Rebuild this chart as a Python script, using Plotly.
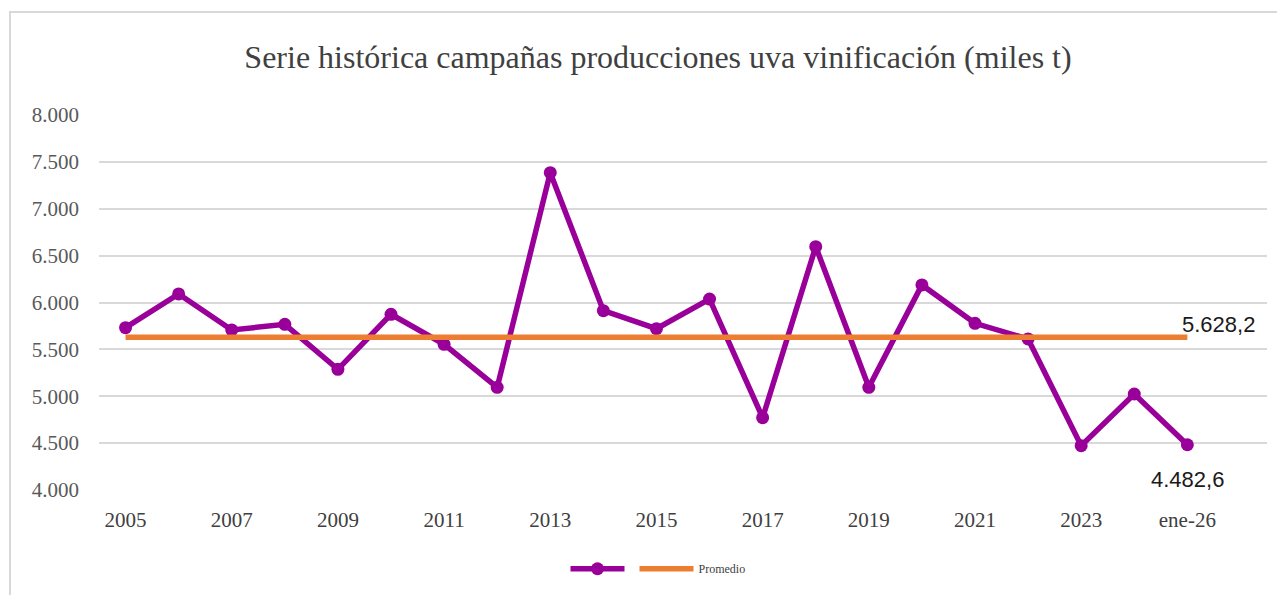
import plotly.graph_objects as go

# ---- data ----
years = ["2005", "2006", "2007", "2008", "2009", "2010", "2011", "2012", "2013", "2014",
         "2015", "2016", "2017", "2018", "2019", "2020", "2021", "2022", "2023", "2024", "ene-26"]
produccion = [5732, 6091, 5707, 5767, 5287, 5874, 5554, 5095, 7385, 5913,
              5721, 6037, 4771, 6596, 5095, 6187, 5778, 5611, 4473, 5024, 4482.6]
promedio_valor = 5628.2
promedio = [promedio_valor] * len(years)
tick_labels = ["2005", "2007", "2009", "2011", "2013", "2015", "2017", "2019", "2021", "2023", "ene-26"]

def fmt_es(v):
    s = f"{v:,.1f}"
    return s.replace(",", "X").replace(".", ",").replace("X", ".")

idx = list(range(len(years)))
tick_idx = [years.index(t) for t in tick_labels]

PURPLE = "#990099"
ORANGE = "#ED7D31"
SERIF = "Liberation Serif, DejaVu Serif, serif"

fig = go.Figure()
fig.add_trace(go.Scatter(
    x=idx, y=produccion, name="", mode="lines+markers",
    line=dict(color=PURPLE, width=5.5), marker=dict(color=PURPLE, size=13),
    customdata=years, hovertemplate="%{customdata}: %{y}<extra></extra>"))
fig.add_trace(go.Scatter(
    x=idx, y=promedio, name="Promedio", mode="lines",
    line=dict(color=ORANGE, width=5.5)))

fig.add_annotation(x=idx[-1], y=promedio_valor, text=fmt_es(promedio_valor),
                   showarrow=False, xshift=31, yshift=13,
                   font=dict(family="Liberation Sans, Arial, sans-serif", size=22, color="#1a1a1a"))
fig.add_annotation(x=idx[-1], y=produccion[-1], text=fmt_es(produccion[-1]),
                   showarrow=False, yshift=-35,
                   font=dict(family="Liberation Sans, Arial, sans-serif", size=22, color="#1a1a1a"))

# chart area border
fig.add_shape(type="rect", xref="paper", yref="paper",
              x0=-0.0762, x1=1.5, y0=-1.0, y1=1.2747,
              line=dict(color="#D9D9D9", width=2), fillcolor="rgba(0,0,0,0)", layer="below")

fig.update_layout(
    width=1277, height=587,
    margin=dict(l=91, r=18, t=107, b=105),
    paper_bgcolor="white", plot_bgcolor="white",
    title=dict(text="Serie histórica campañas producciones uva vinificación (miles t)",
               x=0.4786, xref="paper", xanchor="center",
               y=1 - 49 / 587, yref="container", yanchor="middle",
               font=dict(family=SERIF, size=32, color="#404040")),
    font=dict(family=SERIF, color="#595959"),
    showlegend=True,
    legend=dict(orientation="h", x=0.4786, xanchor="center", y=-0.21, yanchor="middle",
                font=dict(family=SERIF, size=12, color="#404040"),
                itemwidth=54, bgcolor="rgba(0,0,0,0)"),
    xaxis=dict(range=[-0.5, 21.5], tickmode="array", tickvals=tick_idx, ticktext=tick_labels,
               showgrid=False, zeroline=False, showline=False, ticks="",
               ticklabelstandoff=15,
               tickfont=dict(family=SERIF, size=21, color="#404040")),
    yaxis=dict(range=[4000, 8000], dtick=500, tickformat=",d", separatethousands=True,
               showgrid=True, gridcolor="#D9D9D9", gridwidth=2, zeroline=False,
               showline=False, ticks="", ticklabelstandoff=19,
               tickfont=dict(family=SERIF, size=21, color="#595959")),
    separators=",.",
)

fig.write_html("out.html")
